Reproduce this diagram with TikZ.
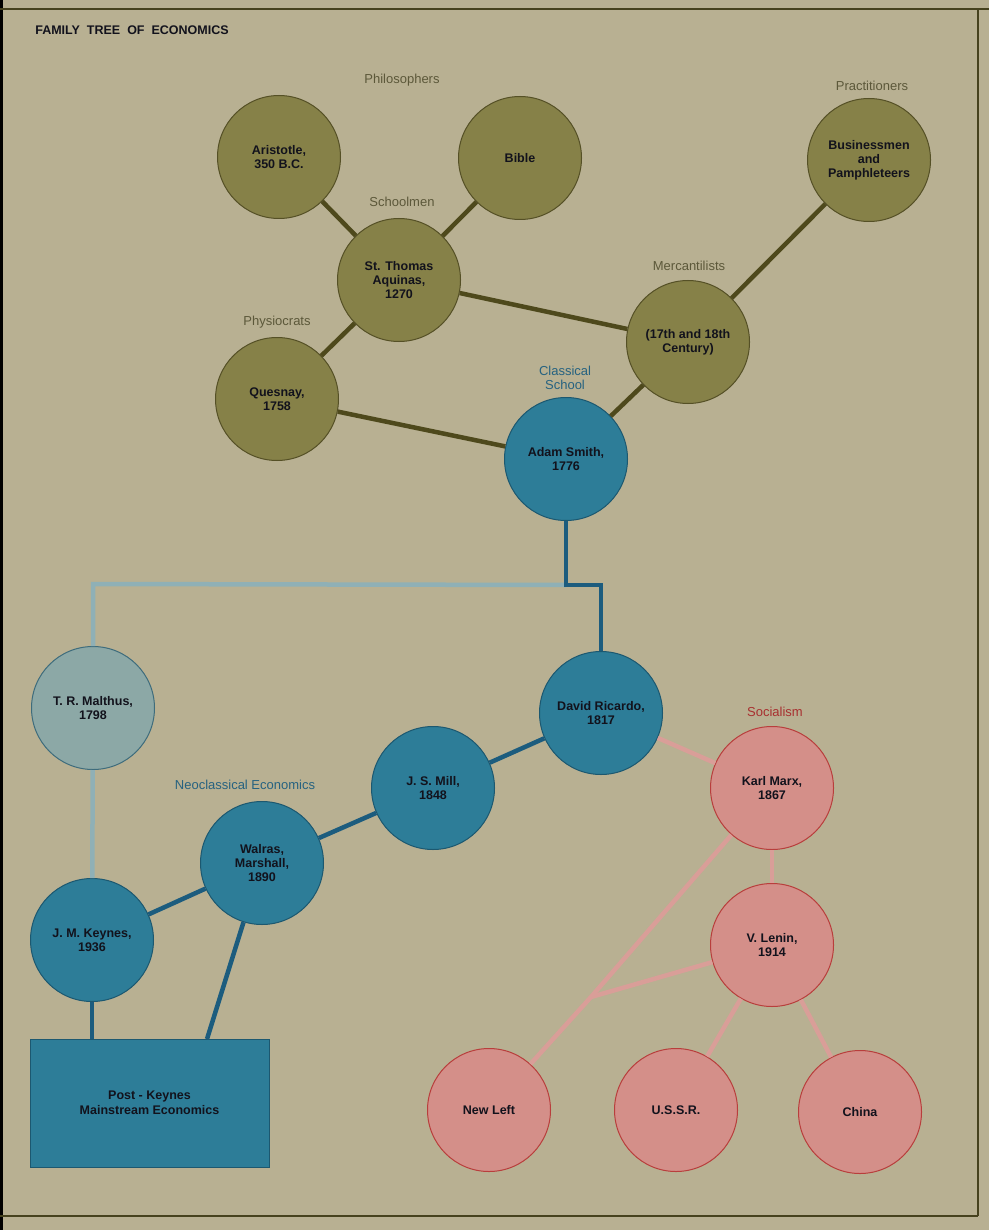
\documentclass[tikz,border=0pt]{standalone}
\usepackage{fontspec}
\setmainfont{Liberation Sans}
\setsansfont{Liberation Sans}
\definecolor{paper}{RGB}{184,176,146}
\definecolor{frameline}{RGB}{70,66,30}
\definecolor{olivefill}{RGB}{134,129,72}
\definecolor{olivedraw}{RGB}{85,80,38}
\definecolor{oliveline}{RGB}{78,73,28}
\definecolor{bluefill}{RGB}{45,125,152}
\definecolor{bluedraw}{RGB}{28,88,112}
\definecolor{blueline}{RGB}{28,92,126}
\definecolor{paleblue}{RGB}{140,168,166}
\definecolor{paledraw}{RGB}{62,108,124}
\definecolor{palebline}{RGB}{143,176,182}
\definecolor{pinkfill}{RGB}{212,143,137}
\definecolor{pinkdraw}{RGB}{184,62,60}
\definecolor{pinkline}{RGB}{217,158,152}
\definecolor{txt}{RGB}{18,18,28}
\definecolor{olivetxt}{RGB}{92,88,58}
\definecolor{bluetxt}{RGB}{38,98,128}
\definecolor{redtxt}{RGB}{168,48,48}
\tikzset{
  circ/.style={circle, minimum size=123pt, inner sep=0pt, line width=1pt, align=center,
     font=\fontsize{12.5}{14}\selectfont\bfseries, text=txt},
  olivec/.style={circ, fill=olivefill, draw=olivedraw},
  bluec/.style={circ, fill=bluefill, draw=bluedraw},
  palec/.style={circ, fill=paleblue, draw=paledraw},
  pinkc/.style={circ, fill=pinkfill, draw=pinkdraw},
  grouplabel/.style={font=\fontsize{13}{14}\selectfont, align=center, inner sep=0pt},
  oliveconn/.style={draw=oliveline, line width=4.5pt},
  blueconn/.style={draw=blueline, line width=4.5pt},
  paleconn/.style={draw=palebline, line width=4.5pt},
  pinkconn/.style={draw=pinkline, line width=4.5pt},
  frameedge/.style={draw=frameline, line width=2pt}
}
\begin{document}
\begin{tikzpicture}[x=1pt,y=-1pt]
\fill[paper] (0,0) rectangle (989,1230);
\useasboundingbox (0,0) rectangle (989,1230);
% frame
\fill[black] (0,0) rectangle (3,1230);
\draw[frameedge] (0,9) -- (989,9);
\draw[frameedge] (978,9) -- (978,1216);
\draw[frameedge] (0,1216) -- (978,1216);
% title
\node[font=\fontsize{12.5}{14}\selectfont\bfseries, text=txt, inner sep=0pt] (title) at (132,30) {FAMILY\ \ TREE\ \ OF\ \ ECONOMICS};
% group labels
\node[grouplabel, text=olivetxt] (lphil) at (402,80) {Philosophers};
\node[grouplabel, text=olivetxt] (lschool) at (402,202) {Schoolmen};
\node[grouplabel, text=olivetxt] (lpract) at (872,86) {Practitioners};
\node[grouplabel, text=olivetxt] (lmerc) at (689,266) {Mercantilists};
\node[grouplabel, text=olivetxt] (lphys) at (277,322) {Physiocrats};
\node[grouplabel, text=bluetxt, font=\fontsize{13}{13.5}\selectfont] (lclass) at (565,378) {Classical\\School};
\node[grouplabel, text=bluetxt] (lneo) at (245,785) {Neoclassical Economics};
\node[grouplabel, text=redtxt] (lsoc) at (775,712) {Socialism};
% nodes
\node[olivec] (aristotle) at (279,157) {Aristotle,\\350 B.C.};
\node[olivec] (bible) at (520,158) {Bible};
\node[olivec] (aquinas) at (399,280) {St. Thomas\\Aquinas,\\1270};
\node[olivec] (business) at (869,160) {Businessmen\\and\\Pamphleteers};
\node[olivec] (merc) at (688,342) {(17th and 18th\\Century)};
\node[olivec] (quesnay) at (277,399) {Quesnay,\\1758};
\node[bluec] (smith) at (566,459) {Adam Smith,\\1776};
\node[palec] (malthus) at (93,708) {T. R. Malthus,\\1798};
\node[bluec] (ricardo) at (601,713) {David Ricardo,\\1817};
\node[bluec] (mill) at (433,788) {J. S. Mill,\\1848};
\node[bluec] (walras) at (262,863) {Walras,\\Marshall,\\1890};
\node[bluec] (keynes) at (92,940) {J. M. Keynes,\\1936};
\node[rectangle, minimum width=239pt, minimum height=128pt, inner sep=0pt, fill=bluefill, draw=bluedraw, line width=0.8pt, align=center, font=\fontsize{12.5}{15}\selectfont\bfseries, text=txt] (post) at (149.5,1103) {Post - Keynes\\Mainstream Economics};
\node[pinkc] (marx) at (772,788) {Karl Marx,\\1867};
\node[pinkc] (lenin) at (772,945) {V. Lenin,\\1914};
\node[pinkc] (newleft) at (489,1110) {New Left};
\node[pinkc] (ussr) at (676,1110) {U.S.S.R.};
\node[pinkc] (china) at (860,1112) {China};
% helper coordinates
\coordinate (sdown) at (566,585);
\coordinate (rtop) at (601,585);
\coordinate (mtop) at (93,584);
\coordinate (wfoot) at (207,1039);
\coordinate (fork) at (591,997);
% connectors
\draw[oliveconn] (aristotle) -- (aquinas);
\draw[oliveconn] (bible) -- (aquinas);
\draw[oliveconn] (aquinas) -- (quesnay);
\draw[oliveconn] (aquinas) -- (merc);
\draw[oliveconn] (business) -- (merc);
\draw[oliveconn] (merc) -- (smith);
\draw[oliveconn] (quesnay) -- (smith);
\draw[paleconn] (malthus) -- (mtop) -- (sdown);
\draw[paleconn] (malthus) -- (keynes);
\draw[blueconn, line join=miter] (smith) -- (sdown) -- (rtop) -- (ricardo);
\draw[blueconn] (ricardo) -- (mill);
\draw[blueconn] (mill) -- (walras);
\draw[blueconn] (walras) -- (keynes);
\draw[blueconn] (walras) -- (wfoot);
\draw[blueconn] (keynes) -- (keynes |- post.north);
\draw[pinkconn] (ricardo) -- (marx);
\draw[pinkconn] (marx) -- (lenin);
\draw[pinkconn] (marx) -- (fork) -- (newleft);
\draw[pinkconn] (lenin) -- (fork);
\draw[pinkconn] (lenin) -- (ussr);
\draw[pinkconn] (lenin) -- (china);
\end{tikzpicture}
\end{document}
